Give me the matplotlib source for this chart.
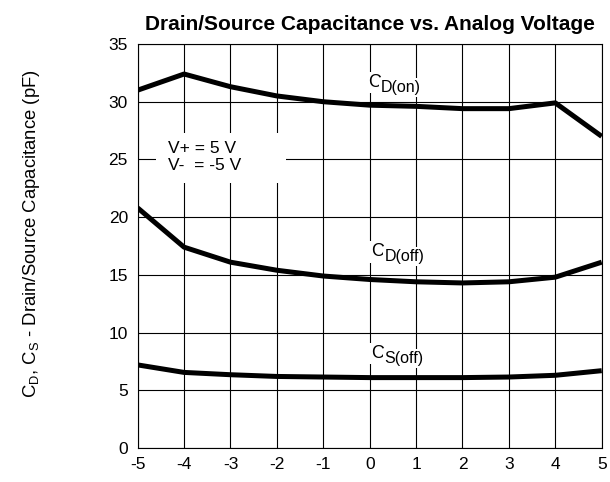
import numpy as np
import matplotlib.pyplot as plt
from matplotlib.patches import Rectangle

plt.rcParams['font.family'] = ['Liberation Sans', 'DejaVu Sans']
plt.rcParams['axes.unicode_minus'] = False

volts = [-5, -4, -3, -2, -1, 0, 1, 2, 3, 4, 5]
cd_on = [31.0, 32.4, 31.3, 30.5, 30.0, 29.7, 29.6, 29.4, 29.4, 29.9, 27.0]
cd_off = [20.8, 17.4, 16.1, 15.4, 14.9, 14.6, 14.4, 14.3, 14.4, 14.8, 16.1]
cs_off = [7.2, 6.55, 6.35, 6.2, 6.15, 6.1, 6.1, 6.1, 6.15, 6.3, 6.7]

fig = plt.figure(figsize=(6.1, 4.82), dpi=100)
ax = fig.add_axes([0.2257, 0.0705, 0.7607, 0.8382])

ax.grid(True, color='black', linewidth=0.8)
ax.set_axisbelow(True)
for y in (cd_on, cd_off, cs_off):
    ax.plot(volts, y, color='black', linewidth=3.6, solid_capstyle='butt', zorder=3)

ax.set_xlim(-5, 5)
ax.set_ylim(0, 35)
ax.set_xticks(volts)
ax.set_yticks(np.arange(0, 36, 5))
ax.tick_params(length=0, labelsize=12.5)
ax.tick_params(axis='x', pad=6.5)
ax.tick_params(axis='y', pad=7)
for s in ax.spines.values():
    s.set_linewidth(0.8)

ax.set_title('Drain/Source Capacitance vs. Analog Voltage', fontsize=15,
             fontweight='bold', pad=10)
ax.set_ylabel('C$_\\mathregular{D}$, C$_\\mathregular{S}$ - Drain/Source Capacitance (pF)',
              fontsize=13.3)
ax.yaxis.set_label_coords(-0.207, 0.53)


def curve_label(x, y, sub):
    box = dict(facecolor='white', edgecolor='none', pad=1.5)
    ax.annotate('C', xy=(x, y), ha='left', va='baseline', fontsize=13,
                bbox=box, zorder=4)
    ax.annotate(sub, xy=(x, y), xytext=(9.4, -3.5), textcoords='offset points',
                ha='left', va='baseline', fontsize=11.5, bbox=box, zorder=5)


curve_label(-0.04, 31.3, 'D(on)')
curve_label(0.04, 16.6, 'D(off)')
curve_label(0.04, 7.8, 'S(off)')

# white patch behind the supply-voltage note
ax.add_patch(Rectangle((-4.61, 22.96), 2.81, 4.34, facecolor='white',
                       edgecolor='none', zorder=2.5))
ax.text(-4.35, 25.2, 'V+ = 5 V\nV-  = -5 V', fontsize=12.5, ha='left', va='center',
        linespacing=1.15, zorder=4)

fig.savefig('out.png', dpi=100)
